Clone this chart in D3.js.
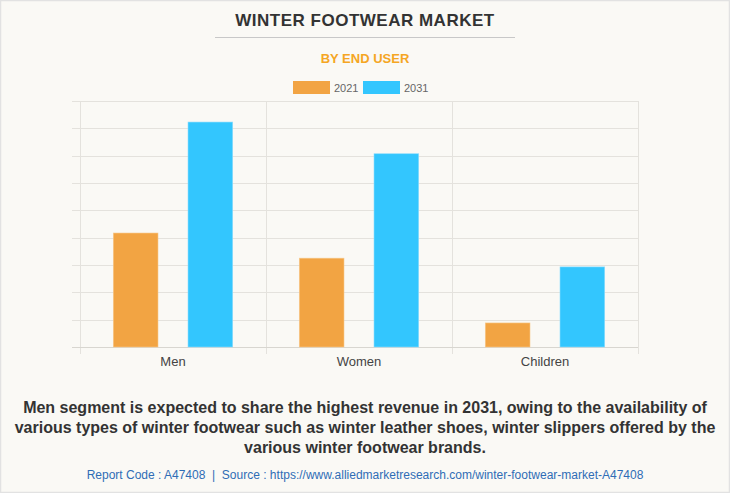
<!DOCTYPE html>
<html><head><meta charset="utf-8">
<script src="https://cdn.jsdelivr.net/npm/d3@7"></script>
<style>
body{margin:0;padding:0;background:#fff;}
svg{display:block;font-family:Arial,"Liberation Sans",sans-serif;}
</style></head>
<body>
<svg id="chart" width="730" height="493"></svg>
<script>
const categories = ["Men", "Women", "Children"];
const seriesNames = ["2021", "2031"];
const values2021 = [4.17, 3.25, 0.88];
const values2031 = [8.23, 7.07, 2.93];
const yTicks = [0,1,2,3,4,5,6,7,8,9];
const colors = ["#f2a443", "#33c6fe"];

const svg = d3.select("#chart");
const W = 730, H = 493;
svg.append("rect").attr("x",0.5).attr("y",0.5).attr("width",W-1).attr("height",H-1)
  .attr("fill","#faf9f5").attr("stroke","#e2e2e2").attr("stroke-width",1.5);

svg.append("text").attr("x",365).attr("y",26).attr("text-anchor","middle")
  .attr("font-size",17).attr("font-weight","bold").attr("fill","#333")
  .attr("letter-spacing","0.5").text("WINTER FOOTWEAR MARKET");
svg.append("line").attr("x1",215).attr("x2",515).attr("y1",37.5).attr("y2",37.5)
  .attr("stroke","#c8c8c8").attr("stroke-width",1);
svg.append("text").attr("x",365).attr("y",63).attr("text-anchor","middle")
  .attr("font-size",13).attr("font-weight","bold").attr("fill","#f5a623").text("BY END USER");

// legend
const leg = svg.append("g");
const legX = [293, 363];
seriesNames.forEach((s,i)=>{
  leg.append("rect").attr("x",legX[i]).attr("y",81).attr("width",37).attr("height",13)
    .attr("fill",colors[i]);
  leg.append("text").attr("x",legX[i]+41).attr("y",91.5).attr("font-size",11)
    .attr("fill","#666").text(s);
});

const m = {left:80, right:638, top:101, bottom:347};
const x0 = d3.scaleBand().domain(categories).range([m.left, m.right]).paddingInner(0).paddingOuter(0);
const x1 = d3.scaleBand().domain(seriesNames).range([0, x0.bandwidth()]).paddingInner(0.4016).paddingOuter(0.4455);
const y = d3.scaleLinear().domain([0,9]).range([m.bottom, m.top]);

// horizontal gridlines
svg.append("g").selectAll("line").data(yTicks).join("line")
  .attr("x1",72).attr("x2",m.right).attr("y1",d=>Math.round(y(d))+0.5).attr("y2",d=>Math.round(y(d))+0.5)
  .attr("stroke","#e4e2dd").attr("stroke-width",1);
// vertical gridlines
const vx = categories.map(c=>x0(c)).concat([m.right]);
svg.append("g").selectAll("line").data(vx).join("line")
  .attr("x1",d=>Math.round(d)+0.5).attr("x2",d=>Math.round(d)+0.5)
  .attr("y1",m.top).attr("y2",354)
  .attr("stroke","#e4e2dd").attr("stroke-width",1);
// baseline
svg.append("line").attr("x1",72).attr("x2",m.right).attr("y1",m.bottom+0.5).attr("y2",m.bottom+0.5)
  .attr("stroke","#d8d6d0");

const data = categories.map((c,i)=>({cat:c, vals:[values2021[i], values2031[i]]}));
const g = svg.append("g");
data.forEach(d=>{
  d.vals.forEach((v,j)=>{
    g.append("rect")
      .attr("x", x0(d.cat)+x1(seriesNames[j]))
      .attr("y", y(v))
      .attr("width", x1.bandwidth())
      .attr("height", y(0)-y(v))
      .attr("fill", colors[j])
      .attr("stroke", j===0?"#f7c98c":"#8fdcfd").attr("stroke-width",0.6);
  });
});

// x axis labels
const xAxis = d3.axisBottom(x0).tickSize(0).tickPadding(10);
const ax = svg.append("g").attr("transform",`translate(0,${m.bottom})`).call(xAxis);
ax.select(".domain").remove();
ax.selectAll("text").attr("font-size",13).attr("fill","#444").attr("font-family","Arial,'Liberation Sans',sans-serif");

// caption
const cap = ["Men segment is expected to share the highest revenue in 2031, owing to the availability of",
  "various types of winter footwear such as winter leather shoes, winter slippers offered by the",
  "various winter footwear brands."];
svg.append("g").selectAll("text").data(cap).join("text")
  .attr("x",365).attr("y",(d,i)=>413+i*20).attr("text-anchor","middle")
  .attr("font-size",16).attr("font-weight","bold").attr("fill","#333").text(d=>d);

svg.append("text").attr("x",365).attr("y",479).attr("text-anchor","middle")
  .attr("font-size",12).attr("fill","#2f6db5")
  .text("Report Code : A47408  |  Source : https://www.alliedmarketresearch.com/winter-footwear-market-A47408")
  .attr("xml:space","preserve").style("white-space","pre");
</script>
</body></html>
